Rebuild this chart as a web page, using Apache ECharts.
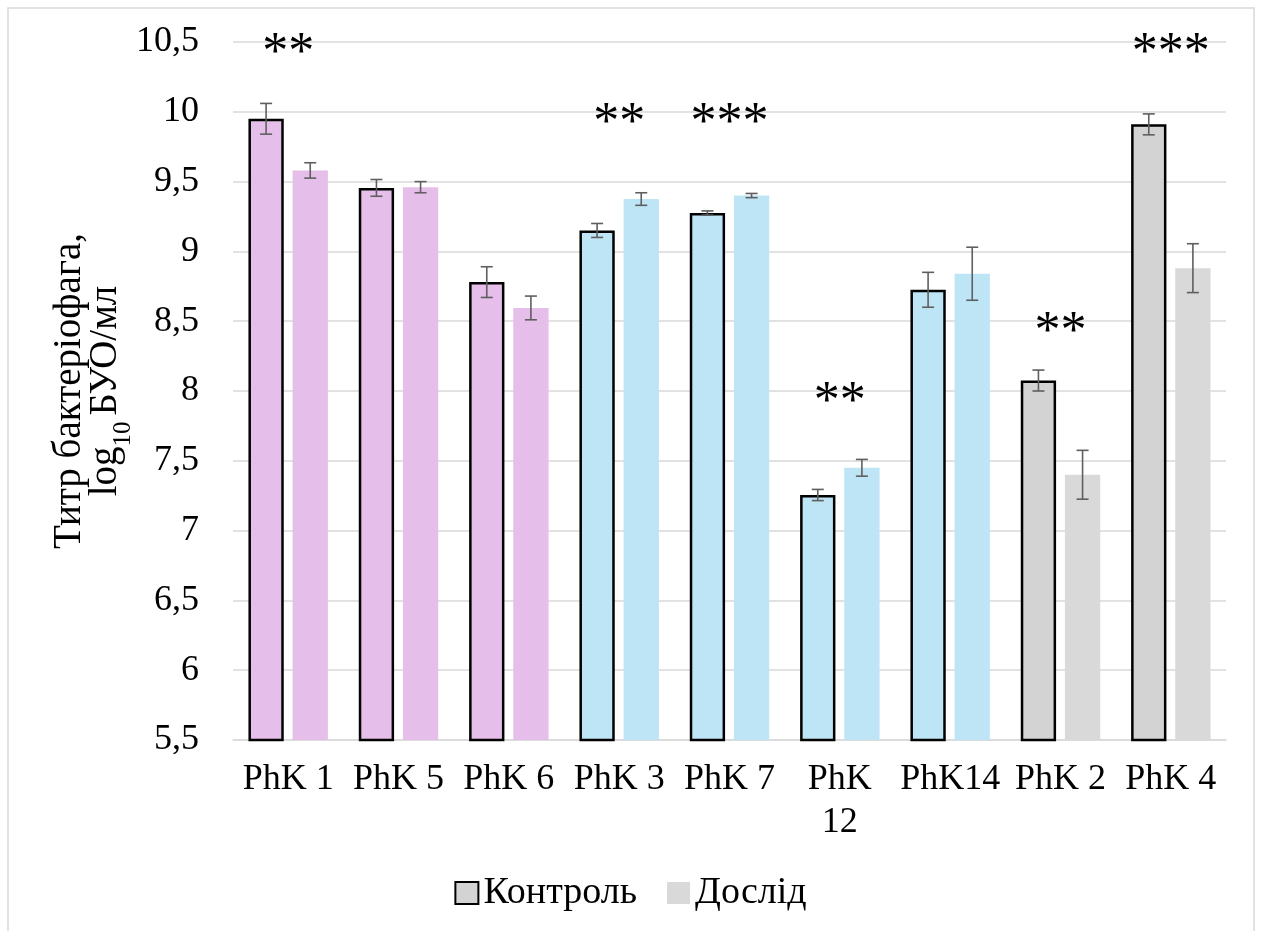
<!DOCTYPE html>
<html>
<head>
<meta charset="utf-8">
<script src="https://cdn.jsdelivr.net/npm/echarts@6/dist/echarts.min.js"></script>
<style>html,body{margin:0;padding:0;background:#fff}#c{width:1261px;height:931px}</style>
</head>
<body>
<div id="c"></div>
<script>
var categories = ['PhK 1', 'PhK 5', 'PhK 6', 'PhK 3', 'PhK 7', 'PhK\n12', 'PhK14', 'PhK 2', 'PhK 4'];
var groups = ['pink', 'pink', 'pink', 'blue', 'blue', 'blue', 'blue', 'grey', 'grey'];
var controlValues = [9.95, 9.455, 8.78, 9.15, 9.275, 7.255, 8.725, 8.075, 9.91];
var controlErrors = [0.11, 0.06, 0.11, 0.05, 0.015, 0.04, 0.125, 0.075, 0.075];
var testValues = [9.58, 9.46, 8.595, 9.375, 9.40, 7.45, 8.84, 7.40, 8.88];
var testErrors = [0.055, 0.04, 0.085, 0.045, 0.015, 0.06, 0.19, 0.175, 0.175];
var sigLabels = ['**', '', '', '**', '***', '**', '', '**', '***'];
var sigLevels = [10.41, 0, 0, 9.91, 9.91, 7.91, 0, 8.41, 10.41];
var yTicks = { min: 5.5, max: 10.5, interval: 0.5 };

var controlColors = { pink: '#E6BEEA', blue: '#BEE5F6', grey: '#D3D3D3' };
var testColors = { pink: '#E6BEEA', blue: '#BEE5F6', grey: '#D9D9D9' };
var FONT = 'Liberation Serif';

var catGapRatio = 0.28, barGapRatio = 0.25;
var barW = (1 - catGapRatio) / (2 + barGapRatio);
var offCtrl = -(barW + barW * barGapRatio) / 2;
var offTest = -offCtrl;

function errRender(values, errors, offFrac) {
  return function (params, api) {
    var i = api.value(0);
    var band = api.size([1, 0])[0];
    var c = api.coord([i, values[i]]);
    var top = api.coord([i, values[i] + errors[i]]);
    var bot = api.coord([i, values[i] - errors[i]]);
    var x = c[0] + offFrac * band;
    var cap = 6;
    var st = { stroke: '#5F5F5F', lineWidth: 1.6 };
    return {
      type: 'group',
      children: [
        { type: 'line', shape: { x1: x, y1: top[1], x2: x, y2: bot[1] }, style: st },
        { type: 'line', shape: { x1: x - cap, y1: top[1], x2: x + cap, y2: top[1] }, style: st },
        { type: 'line', shape: { x1: x - cap, y1: bot[1], x2: x + cap, y2: bot[1] }, style: st }
      ]
    };
  };
}

var idx = categories.map(function (_, i) { return [i]; });

var chart = echarts.init(document.getElementById('c'), null, { renderer: 'canvas' });
chart.setOption({
  animation: false,
  backgroundColor: '#fff',
  textStyle: { fontFamily: FONT },
  graphic: [{
    type: 'rect', shape: { x: 8, y: 8, width: 1246, height: 930 },
    style: { fill: 'none', stroke: '#D9D9D9', lineWidth: 1.5 }, silent: true, z: -1
  }],
  grid: { left: 233, right: 35, top: 42, bottom: 191, containLabel: false },
  legend: {
    data: ['Контроль', 'Дослід'],
    bottom: 14, left: 'center',
    itemWidth: 23, itemHeight: 22, itemGap: 30,
    textStyle: { fontFamily: FONT, fontSize: 38, color: '#000' },
    icon: 'rect'
  },
  xAxis: {
    type: 'category', data: categories,
    axisLine: { show: true, lineStyle: { color: '#D9D9D9', width: 1.5 } },
    axisTick: { show: false },
    axisLabel: { fontFamily: FONT, fontSize: 36, color: '#000', margin: 18, interval: 0, lineHeight: 43 }
  },
  yAxis: {
    type: 'value', min: yTicks.min, max: yTicks.max, interval: yTicks.interval,
    axisLine: { show: false }, axisTick: { show: false },
    splitLine: { lineStyle: { color: '#D9D9D9', width: 1.5 } },
    axisLabel: {
      fontFamily: FONT, fontSize: 36, color: '#000', margin: 34,
      formatter: function (v) { return String(v).replace('.', ','); }
    },
    name: '{a|Титр бактеріофага,}\n{a|log}{s|10}{a|БУО/мл}',
    nameLocation: 'middle', nameGap: 109, nameRotate: 90, nameMoveOverlap: false,
    nameTextStyle: {
      fontFamily: FONT, color: '#000', lineHeight: 36, align: 'center',
      rich: {
        a: { fontFamily: FONT, fontSize: 39, color: '#000', lineHeight: 36 },
        s: { fontFamily: FONT, fontSize: 25, color: '#000', verticalAlign: 'bottom', lineHeight: 36, padding: [0, 6, -12, 0] }
      }
    }
  },
  series: [
    {
      name: 'Контроль', type: 'bar',
      barCategoryGap: (catGapRatio * 100) + '%', barGap: (barGapRatio * 100) + '%',
      itemStyle: { color: '#D3D3D3', borderColor: '#000', borderWidth: 2.5 },
      data: controlValues.map(function (v, i) {
        return { value: v, itemStyle: { color: controlColors[groups[i]], borderColor: '#000', borderWidth: 2.5 } };
      })
    },
    {
      name: 'Дослід', type: 'bar',
      itemStyle: { color: '#D9D9D9' },
      data: testValues.map(function (v, i) {
        return { value: v, itemStyle: { color: testColors[groups[i]] } };
      })
    },
    {
      type: 'custom', name: 'errCtrl', renderItem: errRender(controlValues, controlErrors, offCtrl),
      data: idx, z: 5, silent: true
    },
    {
      type: 'custom', name: 'errTest', renderItem: errRender(testValues, testErrors, offTest),
      data: idx, z: 5, silent: true
    },
    {
      type: 'custom', name: 'sig', z: 6, silent: true,
      data: idx,
      renderItem: function (params, api) {
        var i = api.value(0);
        if (!sigLabels[i]) return null;
        var p = api.coord([i, sigLevels[i]]);
        return {
          type: 'text',
          style: {
            x: p[0], y: p[1], text: sigLabels[i], align: 'center', verticalAlign: 'middle',
            font: '52px "Liberation Serif"', fill: '#000'
          }
        };
      }
    }
  ]
});
</script>
</body>
</html>
